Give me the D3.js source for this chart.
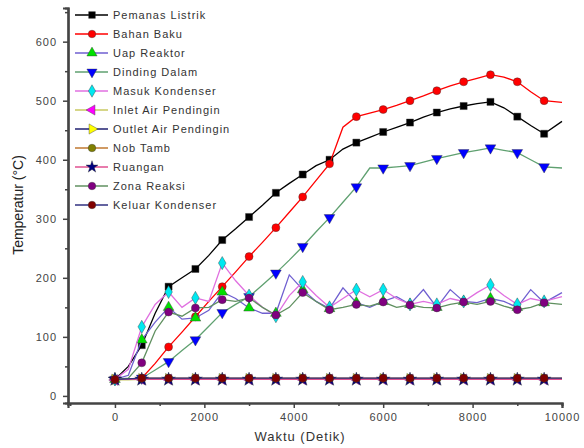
<!DOCTYPE html>
<html>
<head>
<meta charset="utf-8">
<script src="https://cdn.jsdelivr.net/npm/d3@7"></script>
<style>
  body { margin: 0; background: #fff; }
  svg { font-family: "Liberation Sans", Arial, sans-serif; }
</style>
</head>
<body>
<div id="chart"></div>
<script>
// waktu (detik), marker tiap titik kedua
const waktu = [0, 300, 600, 900, 1200, 1500, 1800, 2100, 2400, 2700, 3000, 3300, 3600, 3900, 4200, 4500, 4800,
  5100, 5400, 5700, 6000, 6300, 6600, 6900, 7200, 7500, 7800, 8100, 8400, 8700, 9000, 9300, 9600, 10000];

const pemanasListrik = [28, 50, 86, 140, 185, 200, 215, 238, 264, 283, 303, 323, 344, 360, 375, 390, 400,
  418, 429, 438, 447, 455, 463, 472, 480, 486, 491, 495, 498, 488, 473, 458, 444, 465];
const bahanBaku = [28, 28, 30, 55, 83, 108, 134, 160, 185, 210, 236, 260, 285, 311, 337, 365, 393,
  455, 473, 479, 485, 492, 500, 508, 517, 525, 532, 538, 544, 540, 532, 515, 500, 497];
const uapReaktor = [28, 35, 95, 125, 150, 130, 132, 145, 176, 165, 149, 140, 140, 205, 180, 160, 148,
  183, 158, 150, 160, 168, 155, 180, 150, 180, 160, 158, 165, 160, 150, 180, 158, 175];
const dindingDalam = [28, 28, 30, 44, 58, 77, 95, 118, 141, 155, 168, 188, 208, 230, 253, 278, 302,
  328, 354, 386, 386, 388, 390, 396, 402, 407, 412, 416, 420, 416, 412, 400, 388, 386];
const masukKondenser = [28, 45, 117, 155, 176, 150, 166, 160, 225, 195, 170, 150, 135, 170, 193, 170, 150,
  165, 180, 168, 180, 165, 155, 160, 155, 165, 160, 175, 188, 170, 155, 165, 160, 168];
const inletAir = [27, 27, 28, 28, 28, 28, 28, 28, 28, 28, 28, 28, 28, 28, 28, 28, 28,
  28, 28, 28, 28, 28, 28, 28, 28, 28, 28, 28, 28, 28, 28, 28, 28, 28];
const outletAir = [28, 28, 29, 29, 29, 29, 29, 29, 29, 29, 29, 29, 29, 29, 29, 29, 29,
  29, 29, 29, 29, 29, 29, 29, 29, 29, 29, 29, 29, 29, 29, 29, 29, 29];
const nobTamb = [28, 29, 30, 30, 30, 30, 30, 30, 30, 30, 30, 30, 30, 30, 30, 30, 30,
  30, 30, 30, 30, 30, 30, 30, 30, 30, 30, 30, 30, 30, 30, 30, 30, 30];
const ruangan = [28, 28, 28, 28, 28, 28, 28, 28, 28, 28, 28, 28, 28, 28, 28, 28, 28,
  28, 28, 28, 28, 28, 28, 28, 28, 28, 28, 28, 28, 28, 28, 28, 28, 28];
const zonaReaksi = [28, 30, 56, 110, 142, 135, 149, 150, 163, 160, 166, 150, 137, 150, 175, 160, 146,
  150, 155, 152, 159, 150, 154, 150, 149, 155, 159, 155, 160, 152, 146, 150, 158, 155];
const keluarKondenser = [28, 29, 30, 30, 30, 30, 30, 30, 30, 30, 30, 30, 30, 30, 30, 30, 30,
  30, 30, 30, 30, 30, 30, 30, 30, 30, 30, 30, 30, 30, 30, 30, 30, 30];

const namaSeri = ["Pemanas Listrik", "Bahan Baku", "Uap Reaktor", "Dinding Dalam", "Masuk Kondenser",
  "Inlet Air Pendingin", "Outlet Air Pendingin", "Nob Tamb", "Ruangan", "Zona Reaksi", "Keluar Kondenser"];
const nilaiSeri = [pemanasListrik, bahanBaku, uapReaktor, dindingDalam, masukKondenser,
  inletAir, outletAir, nobTamb, ruangan, zonaReaksi, keluarKondenser];

const yTicks = [0, 100, 200, 300, 400, 500, 600];
const xTicks = [0, 2000, 4000, 6000, 8000, 10000];

// gaya tiap seri (warna garis, warna simbol, simbol)
const lineColors = ["#000000", "#ff0000", "#6f5fd0", "#5fa070", "#e070e0", "#c8c860", "#202070",
  "#c07830", "#e05090", "#609060", "#303080"];
const markColors = ["#000000", "#ff0000", "#00e000", "#0000ff", "#00e8f0", "#ff00ff", "#ffff00",
  "#808000", "#000080", "#800080", "#800000"];
const symbols = [d3.symbolSquare, d3.symbolCircle, d3.symbolTriangle, "down", d3.symbolDiamond,
  "left", "right", d3.symbolCircle, d3.symbolStar, d3.symbolCircle, d3.symbolCircle];

const width = 584, height = 448;
const svg = d3.select("#chart").append("svg").attr("width", width).attr("height", height);

const x = d3.scaleLinear([-1050, 10000], [68, 562]);
const y = d3.scaleLinear([-12, 657], [403, 8]);

function symbolPath(s, size) {
  if (s === "down" || s === "left" || s === "right") return d3.symbol(d3.symbolTriangle, size)();
  return d3.symbol(s, size)();
}
function symbolRotate(s) {
  if (s === "down") return 180;
  if (s === "left") return -90;
  if (s === "right") return 90;
  return 0;
}

const plot = svg.append("g");
const line = d3.line().x((d, i) => x(waktu[i])).y(d => y(d));

nilaiSeri.forEach((vals, si) => {
  plot.append("path")
    .attr("d", line(vals))
    .attr("fill", "none")
    .attr("stroke", lineColors[si])
    .attr("stroke-width", 1.3);
  const size = symbols[si] === d3.symbolStar ? 60 : 50;
  plot.selectAll(null)
    .data(vals.filter((d, i) => i % 2 === 0 && i < waktu.length - 1))
    .join("path")
    .attr("d", symbolPath(symbols[si], size))
    .attr("transform", (d, i) => `translate(${x(waktu[i * 2])},${y(d)}) rotate(${symbolRotate(symbols[si])})`)
    .attr("fill", markColors[si])
    .attr("stroke", "#333")
    .attr("stroke-width", 0.4);
});

// sumbu
const axisColor = "#444";
svg.append("g").attr("transform", `translate(${x.range()[0]},0)`)
  .call(d3.axisLeft(y).tickValues(yTicks).tickSize(5).tickPadding(6).tickFormat(d3.format("d")));
svg.append("g").attr("transform", `translate(${x.range()[0]},0)`)
  .call(d3.axisLeft(y).tickValues([50, 150, 250, 350, 450, 550, 650]).tickSize(3).tickFormat(""));
svg.append("g").attr("transform", `translate(0,${y.range()[0]})`)
  .call(d3.axisBottom(x).tickValues(xTicks).tickSize(5).tickPadding(5).tickFormat(d3.format("d")));
svg.append("g").attr("transform", `translate(0,${y.range()[0]})`)
  .call(d3.axisBottom(x).tickValues([-1000, 1000, 3000, 5000, 7000, 9000]).tickSize(3).tickFormat(""));

svg.selectAll(".domain").attr("stroke", axisColor).attr("stroke-width", 2.2);
svg.selectAll(".tick line").attr("stroke", axisColor).attr("stroke-width", 1.5);
svg.selectAll(".tick text").attr("fill", "#444").attr("font-size", "11px")
  .style("letter-spacing", "1px");

svg.append("text")
  .attr("transform", "translate(23,205) rotate(-90)")
  .attr("text-anchor", "middle")
  .attr("font-size", "14px")
  .attr("fill", "#222")
  .text("Temperatur (°C)");

svg.append("text")
  .attr("x", 300).attr("y", 441)
  .attr("text-anchor", "middle")
  .attr("font-size", "13px")
  .attr("fill", "#333")
  .style("letter-spacing", "1px")
  .text("Waktu (Detik)");

// legenda
const legend = svg.append("g");
namaSeri.forEach((nama, si) => {
  const ly = 15 + si * 19;
  legend.append("line")
    .attr("x1", 75).attr("x2", 108).attr("y1", ly).attr("y2", ly)
    .attr("stroke", lineColors[si]).attr("stroke-width", 1.5);
  legend.append("path")
    .attr("d", symbolPath(symbols[si], 45))
    .attr("transform", `translate(92,${ly}) rotate(${symbolRotate(symbols[si])})`)
    .attr("fill", markColors[si])
    .attr("stroke", "#333").attr("stroke-width", 0.4);
  legend.append("text")
    .attr("x", 113).attr("y", ly + 4)
    .attr("font-size", "11px")
    .attr("fill", "#333")
    .style("letter-spacing", "1px")
    .text(nama);
});
</script>
</body>
</html>
